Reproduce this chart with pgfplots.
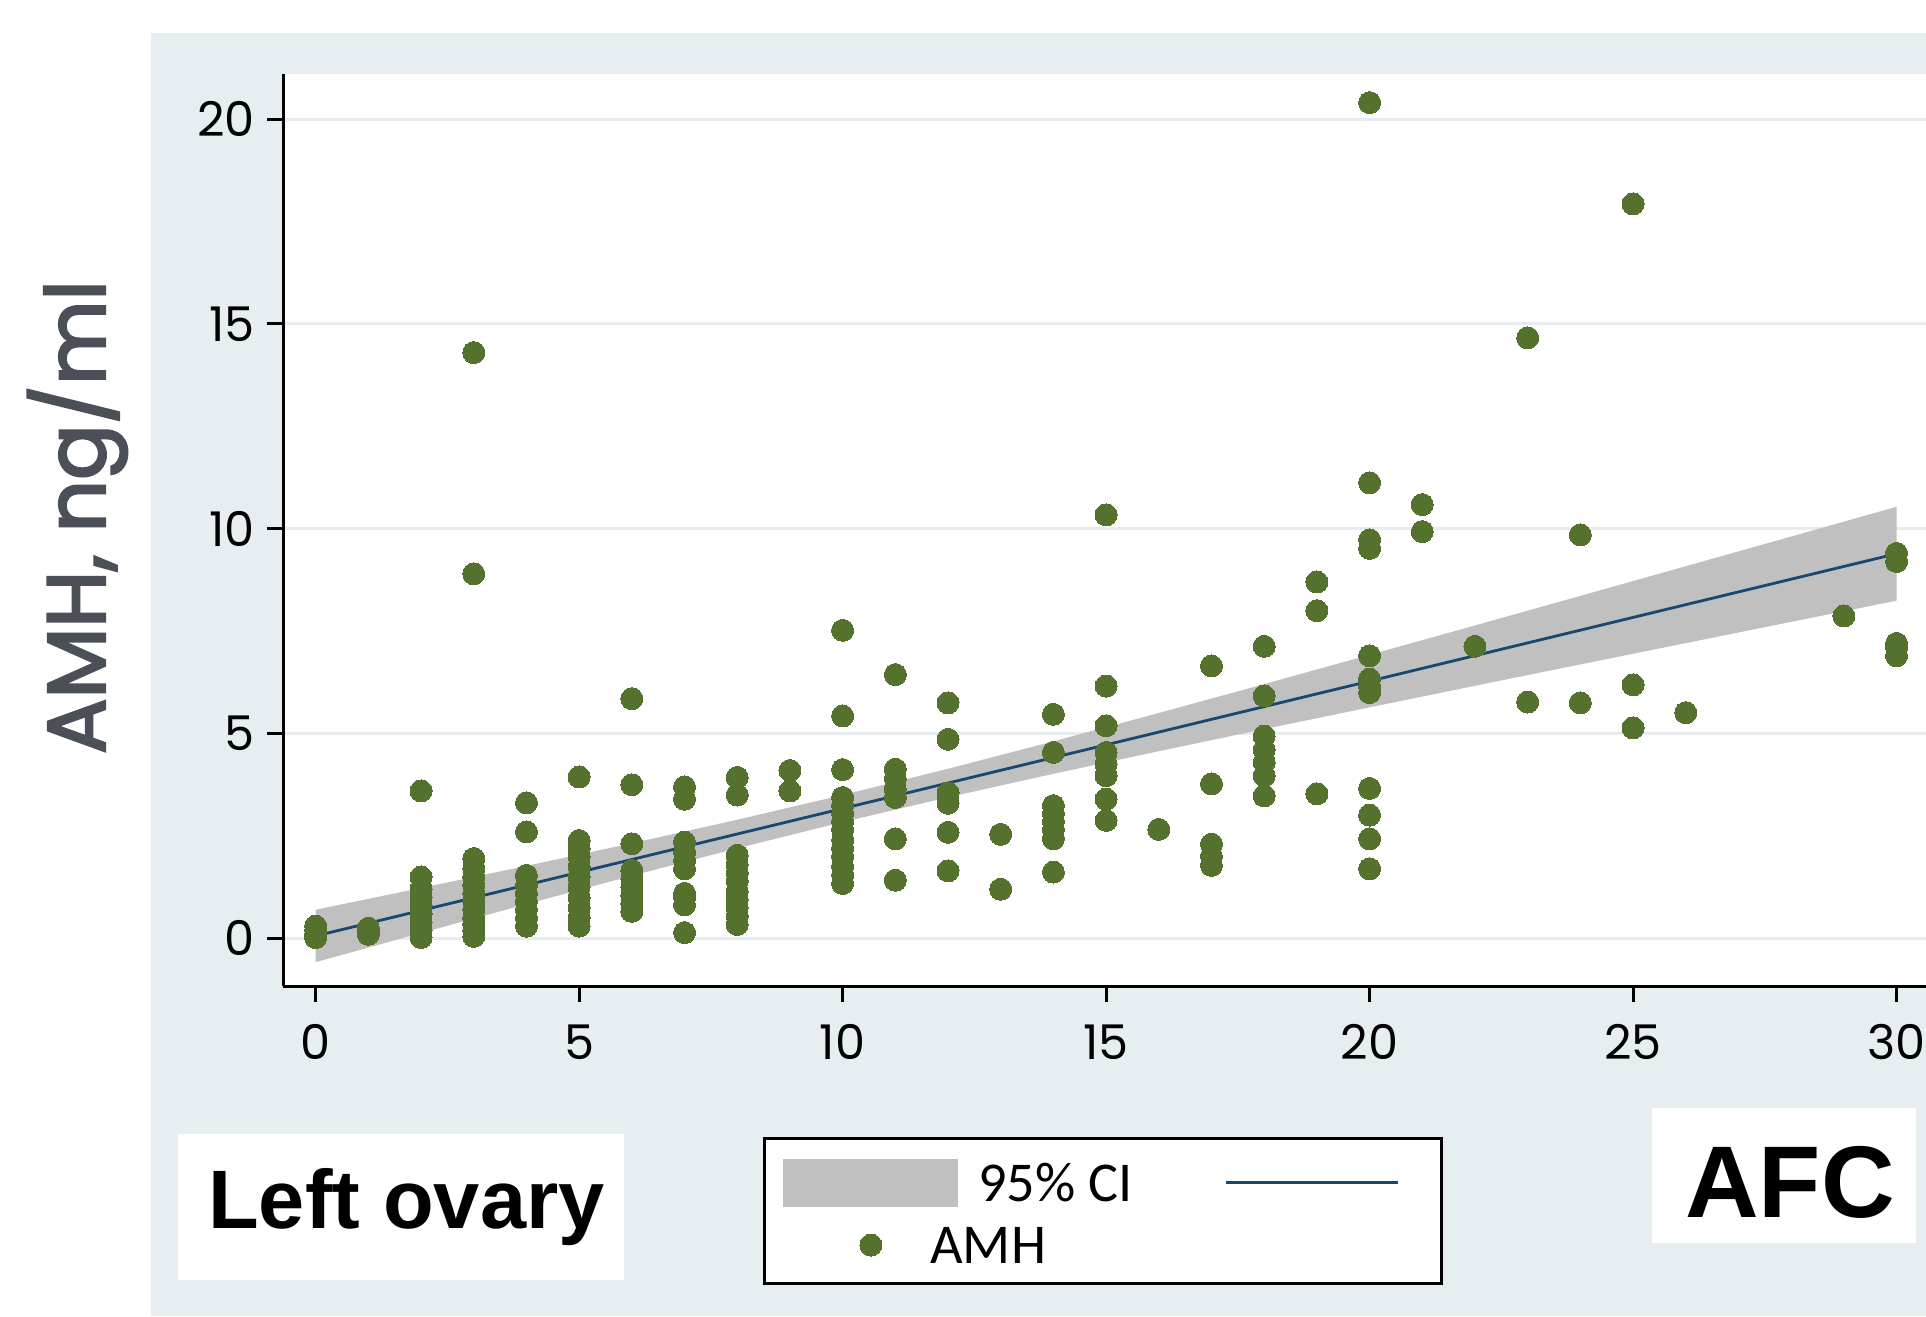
\documentclass[border=0pt]{standalone}
\usepackage{pgfplots}
\pgfplotsset{compat=1.18}
\usepackage{fontspec}
\newfontfamily\poppins{Poppins}
\newfontfamily\poppinsB{Poppins}[FakeBold=3]
\newfontfamily\carlito{Carlito}
\newfontfamily\arialB{Liberation Sans}
\definecolor{bgc}{RGB}{230,238,241}
\definecolor{gridc}{RGB}{230,236,239}
\definecolor{ptc}{RGB}{84,114,46}
\definecolor{navy}{RGB}{26,71,111}
\definecolor{bandc}{RGB}{192,192,192}
\definecolor{labc}{RGB}{75,79,88}
\begin{document}
\begin{tikzpicture}
\useasboundingbox (0,0) rectangle (192.6mm,131.6mm);
\fill[white] (0,0) rectangle (192.6mm,131.6mm);
\fill[bgc] (15.1mm,0) rectangle (192.6mm,128.3mm);
\begin{axis}[
  at={(28.3mm,33.0mm)}, anchor=south west,
  scale only axis, width=164.3mm, height=91.2mm,
  xmin=-0.62, xmax=30.56, ymin=-1.162, ymax=21.10,
  axis lines=left, axis line style={-, line width=0.3mm, black},
  xtick={0,5,...,30}, ytick={0,5,...,20},
  tick align=outside, major tick length=1.6mm,
  tick style={line width=0.3mm, black},
  ymajorgrids, grid style={line width=0.3mm, color=gridc},
  tick label style={font=\poppins\fontsize{13.6}{16}\selectfont},
  xticklabel style={yshift=-1mm},
  /pgf/number format/assume math mode=true,
  axis background/.style={fill=white},
  legend columns=2,
  legend cell align=left,
  legend style={
    at={(0.2921,-0.1656)}, anchor=north west,
    draw=black, line width=0.3mm, fill=white,
    inner xsep=1.9mm, inner ysep=2.0mm,
    font=\carlito\fontsize{16}{19}\selectfont,
    nodes={inner sep=0pt, text height=3.7mm, text depth=0pt},
    /tikz/every odd column/.append style={column sep=2.0mm},
    /tikz/every even column/.append style={column sep=9.2mm},
    row sep=2mm,
  },
]
\addplot[fill=bandc, draw=none,
  legend image code/.code={\fill[bandc, draw=none] (0mm,-2.4mm) rectangle (17.5mm,2.4mm);}]
  coordinates {(0,-0.58)(2,0.133)(4,0.838)(6,1.530)(8,2.200)(10,2.840)(12,3.444)(14,4.018)(16,4.570)(18,5.109)(20,5.640)(22,6.166)(24,6.688)(26,7.208)(28,7.727)(30,8.244)
  (30,10.536)(28,9.809)(26,9.084)(24,8.360)(22,7.639)(20,6.920)(18,6.207)(16,5.502)(14,4.810)(12,4.140)(10,3.500)(8,2.896)(6,2.322)(4,1.770)(2,1.231)(0,0.70)} -- cycle;
\addlegendentry{95\% CI}
\addplot[navy, line width=0.28mm, no marks,
  legend image code/.code={\draw[navy, line width=0.28mm] (0mm,0mm) -- (17.2mm,0mm);}]
  coordinates {(0,0.06)(30,9.39)};
\addlegendentry{}
\addplot[only marks, mark=*, mark size=1.1mm, mark options={fill=ptc, draw=ptc, line width=0pt},
  legend image code/.code={\path[draw=none] (0mm,0mm) -- (17.5mm,0mm); \path[draw=none] plot[only marks, mark=*, mark size=1.1mm, mark options={fill=ptc, draw=ptc, line width=0pt}] coordinates {(8.75mm,0mm)};}]
  table {
x y
0 0.02
0 0.1
0 0.2
0 0.3
1 0.1
1 0.2
1 0.25
2 0.02
2 0.2
2 0.4
2 0.6
2 0.8
2 1.0
2 1.2
2 1.5
2 3.6
3 0.05
3 0.2
3 0.35
3 0.5
3 0.7
3 0.9
3 1.1
3 1.3
3 1.5
3 1.7
3 1.95
3 8.9
3 14.3
4 0.3
4 0.5
4 0.7
4 0.9
4 1.1
4 1.3
4 1.54
4 2.6
4 3.31
5 0.3
5 0.5
5 0.75
5 1.0
5 1.25
5 1.5
5 1.75
5 2.0
5 2.2
5 2.39
5 3.94
6 0.66
6 0.85
6 1.05
6 1.25
6 1.45
6 1.66
6 2.31
6 3.75
6 5.85
7 0.14
7 0.82
7 1.0
7 1.1
7 1.7
7 1.9
7 2.1
7 2.35
7 3.4
7 3.7
8 0.34
8 0.55
8 0.75
8 0.95
8 1.15
8 1.4
8 1.6
8 1.8
8 2.03
8 3.5
8 3.93
9 3.6
9 4.1
10 1.34
10 1.55
10 1.75
10 2.0
10 2.2
10 2.4
10 2.65
10 2.85
10 3.05
10 3.25
10 3.44
10 4.12
10 5.43
10 7.52
11 1.42
11 2.43
11 3.44
11 3.65
11 3.9
11 4.13
11 6.44
12 1.65
12 2.59
12 3.3
12 3.55
12 4.86
12 5.75
13 1.2
13 2.54
14 1.62
14 2.43
14 2.65
14 2.85
14 3.05
14 3.24
14 4.54
14 5.47
15 2.88
15 3.40
15 3.97
15 4.25
15 4.54
15 5.19
15 6.16
15 10.34
16 2.66
17 1.78
17 2.0
17 2.3
17 3.77
17 6.65
18 3.48
18 3.97
18 4.3
18 4.6
18 4.94
18 5.92
18 7.13
19 3.53
19 8.0
19 8.7
20 1.70
20 2.43
20 3.01
20 3.66
20 6.0
20 6.15
20 6.33
20 6.90
20 9.52
20 9.73
20 11.12
20 20.4
21 9.93
21 10.59
22 7.13
23 5.77
23 14.66
24 5.75
24 9.85
25 5.14
25 6.19
25 17.93
26 5.51
29 7.87
30 6.9
30 7.1
30 7.2
30 9.2
30 9.4
};
\addlegendentry{\hspace*{-4.8mm}AMH}
\end{axis}
\node[rotate=90, anchor=base, text=labc, font=\poppinsB\fontsize{23.4}{28}\selectfont] at (10.5mm,79.9mm) {AMH, ng/ml};
\fill[white] (17.8mm,3.6mm) rectangle (62.4mm,18.2mm);
\node[anchor=base, inner sep=0pt, font=\arialB\bfseries\fontsize{23.6}{28}\selectfont] at (40.65mm,8.8mm) {Left ovary};
\fill[white] (165.2mm,7.3mm) rectangle (191.6mm,20.8mm);
\node[anchor=base, inner sep=0pt, font=\arialB\bfseries\fontsize{29}{34}\selectfont] at (179mm,9.9mm) {AFC};
\end{tikzpicture}
\end{document}
